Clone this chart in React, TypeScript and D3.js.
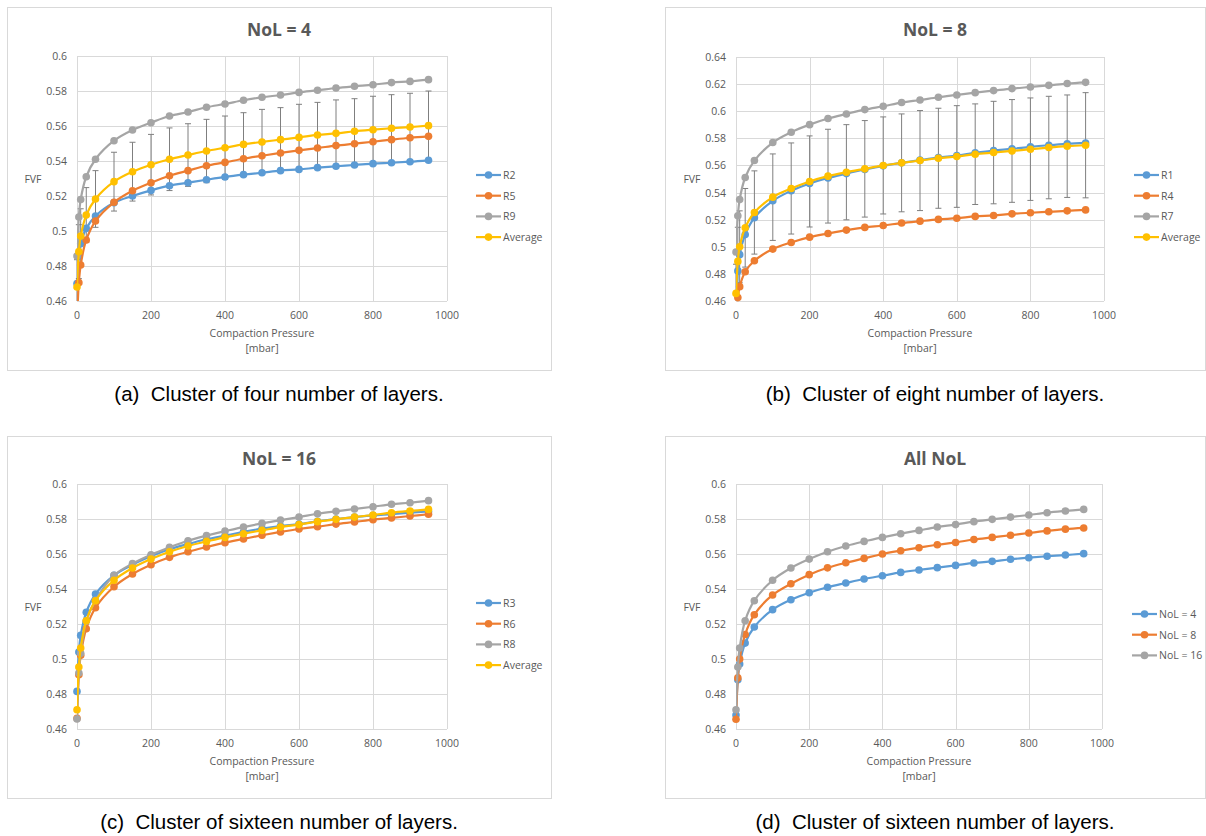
import { scaleLinear, line as d3line, curveCatmullRom, range } from "d3";

const pressure = [0, 5, 10, 25, 50, 100, 150, 200, 250, 300, 350, 400, 450, 500, 550, 600, 650, 700, 750, 800, 850, 900, 950];
const xTicks = [0, 200, 400, 600, 800, 1000];

// NoL = 4
const r2 = [0.47, 0.486, 0.4927, 0.5015, 0.5086, 0.5162, 0.52, 0.5232, 0.5259, 0.5276, 0.5293, 0.5309, 0.5322, 0.5333, 0.5345, 0.5352, 0.5362, 0.537, 0.5377, 0.5385, 0.539, 0.5396, 0.5404];
const r5 = [0.448, 0.4705, 0.4806, 0.4949, 0.5057, 0.5164, 0.523, 0.5276, 0.5316, 0.5345, 0.5373, 0.5392, 0.5413, 0.543, 0.5446, 0.5461, 0.5474, 0.5488, 0.5499, 0.551, 0.5522, 0.5533, 0.5541];
const r9 = [0.4857, 0.508, 0.518, 0.531, 0.541, 0.5516, 0.5577, 0.5619, 0.5657, 0.568, 0.5707, 0.5726, 0.5747, 0.5764, 0.5777, 0.5792, 0.5804, 0.5817, 0.5827, 0.5836, 0.5848, 0.5855, 0.5865];
const avg4 = [0.468, 0.4882, 0.4971, 0.5091, 0.5183, 0.5282, 0.5339, 0.5379, 0.541, 0.5434, 0.5457, 0.5476, 0.5495, 0.5509, 0.5522, 0.5535, 0.5549, 0.5558, 0.557, 0.5579, 0.5587, 0.5594, 0.5602];
const err4 = [0.0156, 0.0154, 0.0156, 0.0157, 0.0162, 0.0168, 0.0168, 0.0173, 0.0179, 0.0179, 0.0181, 0.0181, 0.0181, 0.0186, 0.0183, 0.0189, 0.0186, 0.0191, 0.0186, 0.0191, 0.0192, 0.0193, 0.0198];

// NoL = 8
const r1 = [0.452, 0.4822, 0.4942, 0.509, 0.5214, 0.5339, 0.5413, 0.5467, 0.5508, 0.554, 0.557, 0.5597, 0.5619, 0.5639, 0.5658, 0.5673, 0.5693, 0.571, 0.5722, 0.5737, 0.5749, 0.5759, 0.5766];
const r4 = [0.449, 0.4625, 0.4706, 0.4816, 0.4897, 0.4983, 0.5032, 0.5071, 0.5098, 0.5123, 0.5143, 0.5157, 0.5175, 0.5189, 0.5202, 0.5211, 0.5224, 0.5231, 0.5243, 0.5251, 0.5258, 0.5265, 0.5272];
const r7 = [0.4961, 0.5229, 0.5349, 0.5511, 0.5636, 0.5769, 0.5845, 0.5901, 0.5946, 0.598, 0.6012, 0.6037, 0.6064, 0.6083, 0.6103, 0.612, 0.6137, 0.6152, 0.6167, 0.6179, 0.6191, 0.6204, 0.6213];
const avg8 = [0.4656, 0.4892, 0.5, 0.514, 0.5253, 0.5366, 0.543, 0.5482, 0.5521, 0.555, 0.5575, 0.56, 0.5619, 0.5636, 0.5653, 0.5666, 0.5683, 0.5695, 0.5707, 0.572, 0.5732, 0.5742, 0.5749];
const err8 = [0.0215, 0.0252, 0.0265, 0.029, 0.0307, 0.0319, 0.0336, 0.0336, 0.0346, 0.0351, 0.0356, 0.0358, 0.0361, 0.0369, 0.0369, 0.0375, 0.0371, 0.0378, 0.0379, 0.0378, 0.0378, 0.0378, 0.0388];

// NoL = 16
const r3 = [0.4815, 0.504, 0.5135, 0.5267, 0.5371, 0.5478, 0.5539, 0.5587, 0.5627, 0.5657, 0.5684, 0.5705, 0.5726, 0.5745, 0.576, 0.5771, 0.5787, 0.58, 0.5811, 0.5821, 0.5828, 0.5836, 0.5843];
const r6 = [0.4661, 0.491, 0.5021, 0.5173, 0.5293, 0.5413, 0.5486, 0.5539, 0.5581, 0.5613, 0.564, 0.5665, 0.5686, 0.5707, 0.5726, 0.5743, 0.5756, 0.5771, 0.5783, 0.5796, 0.5806, 0.5817, 0.5827];
const r8 = [0.4657, 0.492, 0.5033, 0.5217, 0.5335, 0.5478, 0.5545, 0.5596, 0.5638, 0.5676, 0.5705, 0.5731, 0.5754, 0.5775, 0.5794, 0.5811, 0.583, 0.5844, 0.5857, 0.587, 0.5884, 0.5893, 0.5905];
const avg16 = [0.471, 0.4954, 0.5063, 0.5219, 0.5333, 0.545, 0.552, 0.5571, 0.5613, 0.5646, 0.5672, 0.5695, 0.5716, 0.5735, 0.5754, 0.5768, 0.5785, 0.5798, 0.5811, 0.5823, 0.5836, 0.5846, 0.5855];

const BLUE = "#5B9BD5";
const ORANGE = "#ED7D31";
const GRAY = "#A5A5A5";
const YELLOW = "#FFC000";
const TEXT = "#595959";
const FONT = "'Open Sans', sans-serif";

type Series = { name: string; values: number[]; color: string };

type PanelProps = {
  id: string;
  title: string;
  box: [number, number, number, number]; // x0, y0, x1, y1
  plot: [number, number, number, number];
  yMax: number;
  series: Series[];
  errors?: number[];
  legendX: number;
  legendY: number;
  caption: string;
  captionY: number;
};

function Panel(p: PanelProps) {
  const [bx0, by0, bx1, by1] = p.box;
  const [px0, py0, px1, py1] = p.plot;
  const x = scaleLinear().domain([0, 1000]).range([px0, px1]);
  const y = scaleLinear().domain([0.46, p.yMax]).range([py1, py0]);
  const yTicks = range(0.46, p.yMax + 0.001, 0.02).map((v) => +v.toFixed(2));
  const line = d3line<number>()
    .x((_, i) => x(pressure[i]))
    .y((d) => y(d))
    .curve(curveCatmullRom.alpha(0.5));
  const avg = p.series[p.series.length - 1].values;
  const cx = (bx0 + bx1) / 2;
  const pcx = (px0 + px1) / 2;

  return (
    <g>
      <defs>
        <clipPath id={"clip-" + p.id}>
          <rect x={px0} y={py0} width={px1 - px0} height={py1 - py0} />
        </clipPath>
      </defs>
      <rect x={bx0 + 0.5} y={by0 + 0.5} width={bx1 - bx0} height={by1 - by0} fill="#fff" stroke="#d9d9d9" />
      <text x={cx} y={by0 + 29} textAnchor="middle" fontFamily={FONT} fontWeight={700} fontSize={17.5} fill={TEXT}>
        {p.title}
      </text>

      {/* grid */}
      {yTicks.map((t) => (
        <g key={"y" + t}>
          <line x1={px0} x2={px1} y1={Math.round(y(t)) + 0.5} y2={Math.round(y(t)) + 0.5} stroke="#d9d9d9" />
          <text x={px0 - 10} y={y(t) + 4} textAnchor="end" fontFamily={FONT} fontSize={10.5} fill={TEXT}>
            {String(t)}
          </text>
        </g>
      ))}
      {xTicks.map((t) => (
        <g key={"x" + t}>
          <line y1={py0} y2={py1} x1={Math.round(x(t)) + 0.5} x2={Math.round(x(t)) + 0.5} stroke="#d9d9d9" />
          <text x={x(t)} y={py1 + 18} textAnchor="middle" fontFamily={FONT} fontSize={10.5} fill={TEXT}>
            {t}
          </text>
        </g>
      ))}

      <text x={px0 - 44} y={(py0 + py1) / 2 + 4} textAnchor="middle" fontFamily={FONT} fontSize={10.5} fill={TEXT}>
        FVF
      </text>
      <text x={pcx} y={py1 + 36} textAnchor="middle" fontFamily={FONT} fontSize={10.5} fill={TEXT}>
        Compaction Pressure
      </text>
      <text x={pcx} y={py1 + 51} textAnchor="middle" fontFamily={FONT} fontSize={10.5} fill={TEXT}>
        [mbar]
      </text>

      {p.errors &&
        p.errors.map((e, i) => {
          const xx = x(pressure[i]);
          const top = y(avg[i] + e);
          const bot = Math.min(y(avg[i] - e), py1);
          return (
            <g key={"e" + i} stroke="#7f7f7f" strokeWidth={1}>
              <line x1={xx} x2={xx} y1={top} y2={bot} />
              <line x1={xx - 3} x2={xx + 3} y1={top} y2={top} />
              {y(avg[i] - e) <= py1 && <line x1={xx - 3} x2={xx + 3} y1={bot} y2={bot} />}
            </g>
          );
        })}
      {p.series.map((s) => (
        <g key={s.name}>
          <path
            d={line(s.values) ?? undefined}
            fill="none"
            stroke={s.color}
            strokeWidth={2.2}
            strokeLinejoin="round"
            clipPath={`url(#clip-${p.id})`}
          />
          {s.values.map((v, i) =>
            v < 0.46 ? null : <circle key={i} cx={x(pressure[i])} cy={y(v)} r={3.8} fill={s.color} />
          )}
        </g>
      ))}

      {/* legend */}
      {p.series.map((s, i) => {
        const ly = p.legendY + i * 20.7;
        return (
          <g key={"l" + s.name}>
            <line x1={p.legendX} x2={p.legendX + 25} y1={ly} y2={ly} stroke={s.color} strokeWidth={2.2} />
            <circle cx={p.legendX + 12.5} cy={ly} r={3.8} fill={s.color} />
            <text x={p.legendX + 27} y={ly + 3.8} fontFamily={FONT} fontSize={10.5} fill={TEXT}>
              {s.name}
            </text>
          </g>
        );
      })}

      <text
        x={cx}
        y={p.captionY}
        textAnchor="middle"
        fontFamily="'Liberation Sans', Arial, sans-serif"
        fontSize={20.5}
        fill="#000"
        style={{ whiteSpace: "pre" }}
      >
        {p.caption}
      </text>
    </g>
  );
}

export default function App() {
  return (
    <div style={{ position: "absolute", left: 0, top: 0 }}>
      <svg width={1206} height={836} style={{ display: "block", background: "#fff" }}>
        <Panel
          id="a"
          title="NoL = 4"
          box={[7, 7, 551, 370]}
          plot={[77, 56, 447, 301]}
          yMax={0.6}
          series={[
            { name: "R2", values: r2, color: BLUE },
            { name: "R5", values: r5, color: ORANGE },
            { name: "R9", values: r9, color: GRAY },
            { name: "Average", values: avg4, color: YELLOW },
          ]}
          errors={err4}
          legendX={476}
          legendY={175}
          caption={"(a)\u00A0\u00A0Cluster of four number of layers."}
          captionY={401}
        />
        <Panel
          id="b"
          title="NoL = 8"
          box={[665, 7, 1205, 370]}
          plot={[736, 57, 1104, 301]}
          yMax={0.64}
          series={[
            { name: "R1", values: r1, color: BLUE },
            { name: "R4", values: r4, color: ORANGE },
            { name: "R7", values: r7, color: GRAY },
            { name: "Average", values: avg8, color: YELLOW },
          ]}
          errors={err8}
          legendX={1134}
          legendY={175}
          caption={"(b)\u00A0\u00A0Cluster of eight number of layers."}
          captionY={401}
        />
        <Panel
          id="c"
          title="NoL = 16"
          box={[7, 436, 551, 798]}
          plot={[77, 484, 447, 729]}
          yMax={0.6}
          series={[
            { name: "R3", values: r3, color: BLUE },
            { name: "R6", values: r6, color: ORANGE },
            { name: "R8", values: r8, color: GRAY },
            { name: "Average", values: avg16, color: YELLOW },
          ]}
          legendX={476}
          legendY={603}
          caption={"(c)\u00A0\u00A0Cluster of sixteen number of layers."}
          captionY={829}
        />
        <Panel
          id="d"
          title="All NoL"
          box={[665, 436, 1205, 798]}
          plot={[736, 484, 1102, 729]}
          yMax={0.6}
          series={[
            { name: "NoL = 4", values: avg4, color: BLUE },
            { name: "NoL = 8", values: avg8, color: ORANGE },
            { name: "NoL = 16", values: avg16, color: GRAY },
          ]}
          legendX={1132}
          legendY={614}
          caption={"(d)\u00A0\u00A0Cluster of sixteen number of layers."}
          captionY={829}
        />
      </svg>
    </div>
  );
}
